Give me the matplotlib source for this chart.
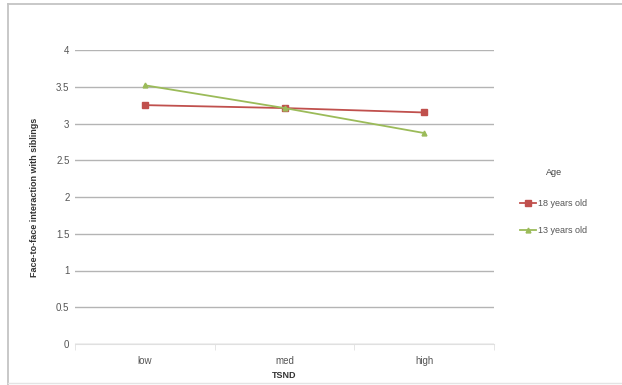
import matplotlib.pyplot as plt
from matplotlib.lines import Line2D

plt.rcParams['font.family'] = ['Liberation Sans', 'DejaVu Sans']

# TSND levels and mean face-to-face interaction per age group
tsnd_levels = ['low', 'med', 'high']
age_18 = [3.25, 3.21, 3.15]
age_13 = [3.52, 3.21, 2.87]
y_ticks = [0, 0.5, 1, 1.5, 2, 2.5, 3, 3.5, 4]
y_tick_labels = ['0', '0.5', '1', '1.5', '2', '2.5', '3', '3.5', '4']

fig = plt.figure(figsize=(6.22, 3.85), dpi=100)
fig.patch.set_facecolor('white')
fig.patch.set_linewidth(0)

# chart area frame: top and left edges, faint bottom edge
fl, ft, fb = 8 / 622, 1 - 4 / 385, 2 / 385
fig.add_artist(Line2D([fl, 1.05], [ft, ft], transform=fig.transFigure,
                      color='#c4c4c4', linewidth=1.3))
fig.add_artist(Line2D([fl, fl], [0, ft], transform=fig.transFigure,
                      color='#c4c4c4', linewidth=1.3))
fig.add_artist(Line2D([fl, 1.05], [fb, fb], transform=fig.transFigure,
                      color='#e4e4e4', linewidth=1.0))

ax = fig.add_axes([75 / 622, 1 - 344 / 385, (494 - 75) / 622, (344 - 50) / 385])
x = range(len(tsnd_levels))

ax.plot(x, age_18, color='#c0504d', linewidth=1.3, marker='s', markersize=5,
        label='18 years old')
ax.plot(x, age_13, color='#9bbb59', linewidth=1.3, marker='^', markersize=3.5,
        label='13 years old')

ax.set_xlim(-0.5, 2.5)
ax.set_ylim(0, 4)
ax.set_yticks(y_ticks)
ax.set_yticklabels(y_tick_labels)
ax.set_xticks(list(x))
ax.set_xticklabels(tsnd_levels)
ax.set_xticks([-0.5, 0.5, 1.5, 2.5], minor=True)
ax.yaxis.grid(True, color='#b4b4b4', linewidth=1.0)
ax.set_axisbelow(True)

for side in ['top', 'right', 'left']:
    ax.spines[side].set_visible(False)
ax.spines['bottom'].set_color('#e0e0e0')

ax.tick_params(axis='y', length=0, labelsize=7, labelcolor='#555555', pad=4)
ax.tick_params(axis='x', which='major', length=0, labelsize=7,
               labelcolor='#555555', pad=9)
ax.tick_params(axis='x', which='minor', length=4, color='#e0e0e0')

ax.set_ylabel('Face-to-face interaction with siblings', fontsize=6.5,
              fontweight='bold', color='#333333', labelpad=12)
ax.set_xlabel('TSND', fontsize=6.5, fontweight='bold', color='#333333',
              labelpad=3)

leg = fig.legend(loc='upper left', bbox_to_anchor=(512 / 622, 1 - 160 / 385),
                 title='Age', frameon=False, fontsize=6.5, title_fontsize=6.5,
                 labelspacing=2.0, handlelength=1.8, handletextpad=0.2,
                 labelcolor='#555555')
leg.get_title().set_color('#444444')
leg._legend_box.sep = 16

fig.savefig('out.png', dpi=100)
